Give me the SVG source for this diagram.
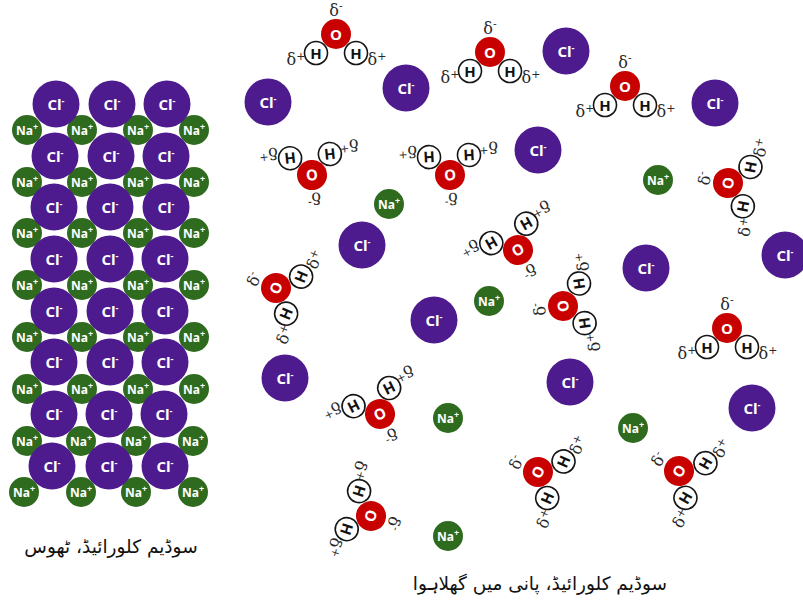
<svg xmlns="http://www.w3.org/2000/svg" xmlns:xlink="http://www.w3.org/1999/xlink" width="803" height="610" viewBox="0 0 803 610">
  <style>
    .cl { fill: #4e1b8f; }
    .na { fill: #2f6b1f; }
    .ox { fill: #c80000; }
    .hy { fill: #ffffff; stroke: #151515; stroke-width: 1.6; }
    .lbl { font-family: "Open Sans", "Liberation Sans", sans-serif; font-weight: bold; text-anchor: middle; }
    .ion-cl { font-size: 15px; fill: #ffffff; }
    .ion-na { font-size: 12px; fill: #ffffff; }
    .sup { font-size: 9px; }
    .dsup { font-size: 11px; }
    .atom-o { font-size: 15px; fill: #ffffff; }
    .atom-h { font-size: 15px; fill: #111111; }
    .delta { font-family: "DejaVu Serif", "Liberation Serif", serif; font-size: 16px; fill: #2a2a2a; text-anchor: middle; }
    .caption { font-family: "DejaVu Sans", "Noto Sans", sans-serif; font-size: 18.5px; fill: #111111; text-anchor: middle; }
  </style>
  <defs>
    <!-- chloride ion -->
    <g id="cl-ion">
      <circle class="cl" r="23.5"/>
      <text class="lbl ion-cl" y="5.5">Cl<tspan class="sup" dy="-6">-</tspan></text>
    </g>
    <!-- sodium ion -->
    <g id="na-ion">
      <circle class="na" r="15"/>
      <text class="lbl ion-na" y="4.5">Na<tspan class="sup" dy="-5">+</tspan></text>
    </g>
    <!-- water molecule, oxygen at origin, hydrogens below -->
    <g id="water">
      <circle class="hy" cx="-20" cy="19" r="11.5"/>
      <circle class="hy" cx="20" cy="19" r="11.5"/>
      <text class="lbl atom-h" x="-20" y="24.5">H</text>
      <text class="lbl atom-h" x="20" y="24.5">H</text>
      <circle class="ox" r="15"/>
      <text class="lbl atom-o" y="5.5">O</text>
      <text class="delta" x="0" y="-18">δ<tspan class="dsup" dy="-6">-</tspan></text>
      <text class="delta" x="-40" y="31">δ<tspan class="dsup" dy="-5">+</tspan></text>
      <text class="delta" x="41" y="31">δ<tspan class="dsup" dy="-5">+</tspan></text>
    </g>
  </defs>

  <rect width="803" height="610" fill="#ffffff"/>

  <!-- solid crystal lattice -->
  <g id="lattice">
    <g id="lattice-na-1"><use href="#na-ion" x="27" y="130"/><use href="#na-ion" x="82" y="130"/><use href="#na-ion" x="138" y="130"/><use href="#na-ion" x="194" y="130"/></g>
    <g id="lattice-na-2"><use href="#na-ion" x="27" y="182"/><use href="#na-ion" x="82" y="182"/><use href="#na-ion" x="138" y="182"/><use href="#na-ion" x="194" y="182"/></g>
    <g id="lattice-na-3"><use href="#na-ion" x="27" y="233"/><use href="#na-ion" x="82" y="233"/><use href="#na-ion" x="138" y="233"/><use href="#na-ion" x="194" y="233"/></g>
    <g id="lattice-na-4"><use href="#na-ion" x="27" y="285"/><use href="#na-ion" x="82" y="285"/><use href="#na-ion" x="138" y="285"/><use href="#na-ion" x="194" y="285"/></g>
    <g id="lattice-na-5"><use href="#na-ion" x="27" y="337"/><use href="#na-ion" x="82" y="337"/><use href="#na-ion" x="138" y="337"/><use href="#na-ion" x="194" y="337"/></g>
    <g id="lattice-na-6"><use href="#na-ion" x="27" y="389"/><use href="#na-ion" x="82" y="389"/><use href="#na-ion" x="138" y="389"/><use href="#na-ion" x="194" y="389"/></g>
    <g id="lattice-na-7"><use href="#na-ion" x="27" y="441"/><use href="#na-ion" x="81" y="441"/><use href="#na-ion" x="136" y="441"/><use href="#na-ion" x="193" y="441"/></g>
    <g id="lattice-na-8"><use href="#na-ion" x="24" y="492"/><use href="#na-ion" x="81" y="492"/><use href="#na-ion" x="136" y="492"/><use href="#na-ion" x="193" y="492"/></g>

    <g id="lattice-cl-1"><use href="#cl-ion" x="56" y="104"/><use href="#cl-ion" x="112" y="104"/><use href="#cl-ion" x="167" y="104"/></g>
    <g id="lattice-cl-2"><use href="#cl-ion" x="55" y="156"/><use href="#cl-ion" x="111" y="156"/><use href="#cl-ion" x="166" y="156"/></g>
    <g id="lattice-cl-3"><use href="#cl-ion" x="54" y="207"/><use href="#cl-ion" x="110" y="207"/><use href="#cl-ion" x="166" y="207"/></g>
    <g id="lattice-cl-4"><use href="#cl-ion" x="54" y="259"/><use href="#cl-ion" x="110" y="259"/><use href="#cl-ion" x="165" y="259"/></g>
    <g id="lattice-cl-5"><use href="#cl-ion" x="54" y="311"/><use href="#cl-ion" x="110" y="311"/><use href="#cl-ion" x="165" y="311"/></g>
    <g id="lattice-cl-6"><use href="#cl-ion" x="54" y="362"/><use href="#cl-ion" x="110" y="362"/><use href="#cl-ion" x="165" y="362"/></g>
    <g id="lattice-cl-7"><use href="#cl-ion" x="54" y="414"/><use href="#cl-ion" x="109" y="414"/><use href="#cl-ion" x="164" y="414"/></g>
    <g id="lattice-cl-8"><use href="#cl-ion" x="52" y="466"/><use href="#cl-ion" x="109" y="466"/><use href="#cl-ion" x="165" y="466"/></g>
  </g>

  <!-- dissolved chloride ions -->
  <g id="free-cl">
    <g id="cl-1"><use href="#cl-ion" x="268" y="102"/></g>
    <g id="cl-2"><use href="#cl-ion" x="406" y="88"/></g>
    <g id="cl-3"><use href="#cl-ion" x="566" y="51"/></g>
    <g id="cl-4"><use href="#cl-ion" x="715" y="103"/></g>
    <g id="cl-5"><use href="#cl-ion" x="538" y="150"/></g>
    <g id="cl-6"><use href="#cl-ion" x="362" y="245"/></g>
    <g id="cl-7"><use href="#cl-ion" x="646" y="268"/></g>
    <g id="cl-8"><use href="#cl-ion" x="785" y="255"/></g>
    <g id="cl-9"><use href="#cl-ion" x="434" y="320"/></g>
    <g id="cl-10"><use href="#cl-ion" x="285" y="378"/></g>
    <g id="cl-11"><use href="#cl-ion" x="570" y="382"/></g>
    <g id="cl-12"><use href="#cl-ion" x="752" y="408"/></g>
  </g>

  <!-- dissolved sodium ions -->
  <g id="free-na">
    <g id="na-1"><use href="#na-ion" x="389" y="204"/></g>
    <g id="na-2"><use href="#na-ion" x="658" y="180"/></g>
    <g id="na-3"><use href="#na-ion" x="489" y="301"/></g>
    <g id="na-4"><use href="#na-ion" x="448" y="418"/></g>
    <g id="na-5"><use href="#na-ion" x="633" y="428"/></g>
    <g id="na-6"><use href="#na-ion" x="448" y="536"/></g>
  </g>

  <!-- water molecules -->
  <g id="water-molecules">
    <g id="water-1"><use href="#water" transform="translate(336,34)"/></g>
    <g id="water-2"><use href="#water" transform="translate(490,52)"/></g>
    <g id="water-3"><use href="#water" transform="translate(625,86)"/></g>
    <g id="water-4"><use href="#water" transform="translate(312,175) rotate(174)"/></g>
    <g id="water-5"><use href="#water" transform="translate(450,175) rotate(177)"/></g>
    <g id="water-6"><use href="#water" transform="translate(518,250) rotate(151)"/></g>
    <g id="water-7"><use href="#water" transform="translate(563,306) rotate(-98)"/></g>
    <g id="water-8"><use href="#water" transform="translate(276,288) rotate(-68)"/></g>
    <g id="water-9"><use href="#water" transform="translate(728,183) rotate(-79)"/></g>
    <g id="water-10"><use href="#water" transform="translate(380,414) rotate(153)"/></g>
    <g id="water-11"><use href="#water" transform="translate(371,516) rotate(108)"/></g>
    <g id="water-12"><use href="#water" transform="translate(538,472) rotate(-66)"/></g>
    <g id="water-13"><use href="#water" transform="translate(679,471) rotate(-60)"/></g>
    <g id="water-14"><use href="#water" transform="translate(727,328)"/></g>
  </g>

  <!-- captions -->
  <g id="captions">
    <text class="caption" x="111" y="553" direction="rtl">سوڈیم کلورائیڈ، ٹھوس</text>
    <text class="caption" x="540" y="590" direction="rtl">سوڈیم کلورائیڈ، پانی میں گھلاہوا</text>
  </g>
</svg>
